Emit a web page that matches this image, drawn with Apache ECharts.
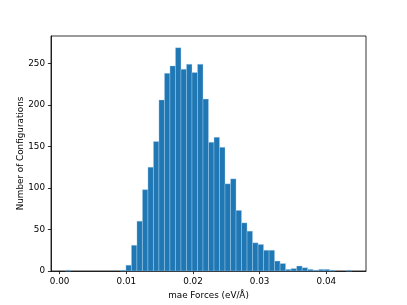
<!DOCTYPE html>
<html>
<head>
<meta charset="utf-8">
<script src="https://cdn.jsdelivr.net/npm/echarts@6/dist/echarts.min.js"></script>
<style>
  html, body { margin: 0; padding: 0; background: #fff; }
  #chart { width: 407px; height: 305px; }
</style>
</head>
<body>
<div id="chart"></div>
<script>
// histogram data
const binStart = 0.00085;
const binWidth = 0.000826;
const counts = [1, 0, 0, 0, 0, 0, 0, 0, 0, 0,
  1, 7, 31, 60, 98, 125, 156, 206, 238, 247,
  269, 243, 249, 239, 249, 207, 155, 161, 149, 105,
  111, 73, 58, 48, 34, 32, 25, 25, 12, 9,
  2, 3, 6, 4, 2, 1, 2, 2, 1, 0,
  0, 1];
const xTicks = [0, 0.01, 0.02, 0.03, 0.04];
const yTicks = [0, 50, 100, 150, 200, 250];

const font = 'DejaVu Sans';

// build [left, right, count] triples for the custom series
const bins = counts.map((c, i) => [binStart + i * binWidth, binStart + (i + 1) * binWidth, c]);

const chart = echarts.init(document.getElementById('chart'));
chart.setOption({
  animation: false,
  grid: {
    left: 51, right: 41, top: 36, bottom: 34,
    show: true, borderColor: '#000', borderWidth: 0.8,
    outerBoundsMode: 'none'
  },
  xAxis: {
    type: 'value',
    min: -0.0013,
    max: 0.04595,
    name: 'mae Forces (eV/Å)',
    nameLocation: 'middle',
    nameGap: 20,
    nameMoveOverlap: false,
    nameTextStyle: { fontFamily: font, fontSize: 8.8, color: '#000', verticalAlign: 'top' },
    axisLine: { show: true, onZero: false, lineStyle: { color: '#000', width: 0.8 } },
    axisTick: { show: true, length: 3.1, lineStyle: { color: '#000', width: 0.8 }, customValues: xTicks },
    axisLabel: {
      fontFamily: font, fontSize: 8.8, color: '#000', margin: 6,
      customValues: xTicks,
      formatter: v => v.toFixed(2)
    },
    splitLine: { show: false }
  },
  yAxis: {
    type: 'value',
    min: 0,
    max: 283,
    name: 'Number of Configurations',
    nameLocation: 'middle',
    nameGap: 26,
    nameMoveOverlap: false,
    nameTextStyle: { fontFamily: font, fontSize: 8.8, color: '#000' },
    axisLine: { show: true, onZero: false, lineStyle: { color: '#000', width: 0.8 } },
    axisTick: { show: true, length: 3.1, lineStyle: { color: '#000', width: 0.8 }, customValues: yTicks },
    axisLabel: { fontFamily: font, fontSize: 8.8, color: '#000', margin: 6, customValues: yTicks },
    splitLine: { show: false }
  },
  series: [{
    type: 'custom',
    data: bins,
    encode: { x: [0, 1], y: 2 },
    renderItem: function (params, api) {
      if (!api.value(2)) return null;
      const p0 = api.coord([api.value(0), api.value(2)]);
      const p1 = api.coord([api.value(1), 0]);
      return {
        type: 'rect',
        shape: { x: p0[0], y: p0[1], width: p1[0] - p0[0], height: p1[1] - p0[1] },
        style: { fill: '#1f77b4', stroke: 'rgba(190,220,245,0.7)', lineWidth: 0.5 }
      };
    }
  }]
});
</script>
</body>
</html>
